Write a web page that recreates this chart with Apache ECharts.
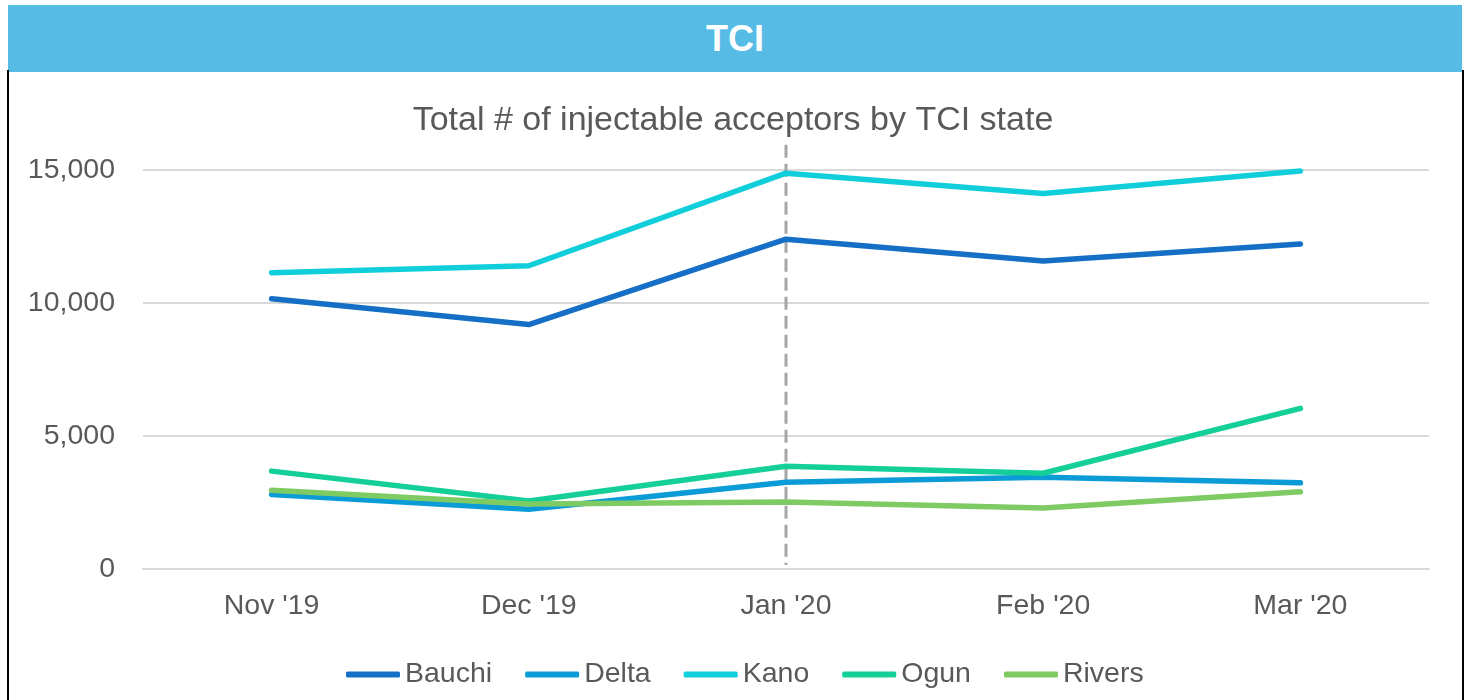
<!DOCTYPE html>
<html>
<head>
<meta charset="utf-8">
<script src="https://cdn.jsdelivr.net/npm/echarts@6/dist/echarts.min.js"></script>
<style>
  html, body { margin: 0; padding: 0; background: #fff; }
  .page { position: relative; width: 1466px; height: 700px; overflow: hidden; }
  .header {
    position: absolute; left: 8px; top: 5px; width: 1454px; height: 67px;
    background: #56bbe5; color: #fff; z-index: 2;
    font: bold 36px "Liberation Sans", Arial, sans-serif;
    display: flex; align-items: center; justify-content: center;
  }
  .frame {
    position: absolute; left: 7px; top: 70px; width: 1453px; height: 640px;
    border-left: 2px solid #000; border-right: 2px solid #000; z-index: 2;
    pointer-events: none;
  }
  #chart { position: absolute; left: 0; top: 0; width: 1466px; height: 700px; }
</style>
</head>
<body>
<div class="page">
  <div class="header">TCI</div>
  <div class="frame"></div>
  <div id="chart"></div>
</div>
<script>
// 数据
const months = ["Nov '19", "Dec '19", "Jan '20", "Feb '20", "Mar '20"]
const bauchi = [10160, 9190, 12400, 11580, 12220]
const delta = [2800, 2250, 3260, 3450, 3240]
const kano = [11140, 11400, 14880, 14120, 14960]
const ogun = [3680, 2560, 3860, 3600, 6040]
const rivers = [2960, 2440, 2520, 2290, 2900]
const yTicks = [0, 5000, 10000, 15000]

const seriesList = [
  { name: 'Bauchi', data: bauchi, color: '#166fc6' },
  { name: 'Delta', data: delta, color: '#0b9cd8' },
  { name: 'Kano', data: kano, color: '#10cfdb' },
  { name: 'Ogun', data: ogun, color: '#14cf97' },
  { name: 'Rivers', data: rivers, color: '#7ecb63' }
]

const font = '"Liberation Sans", Arial, sans-serif'
const chart = echarts.init(document.getElementById('chart'))

chart.setOption({
  backgroundColor: 'transparent',
  animation: false,
  title: {
    text: 'Total # of injectable acceptors by TCI state',
    left: 'center',
    top: 99,
    textStyle: { color: '#595959', fontSize: 34, fontWeight: 'normal', fontFamily: font }
  },
  legend: {
    top: 655,
    left: 341,
    icon: 'roundRect',
    itemWidth: 54,
    itemHeight: 6,
    itemGap: 33,
    textStyle: { color: '#595959', fontSize: 28.5, fontFamily: font },
    data: seriesList.map(s => s.name)
  },
  grid: { left: 143, right: 37, top: 170, bottom: 131 },
  xAxis: {
    type: 'category',
    data: months,
    boundaryGap: true,
    axisLine: { lineStyle: { color: '#d9d9d9', width: 2 } },
    axisTick: { show: false },
    axisLabel: { color: '#595959', fontSize: 28.5, fontFamily: font, margin: 23 }
  },
  yAxis: {
    type: 'value',
    min: yTicks[0],
    max: yTicks[yTicks.length - 1],
    interval: 5000,
    axisLine: { show: false },
    axisTick: { show: false },
    splitLine: { lineStyle: { color: '#d9d9d9', width: 2 } },
    axisLabel: {
      color: '#595959', fontSize: 28.5, fontFamily: font, margin: 28,
      formatter: v => v.toLocaleString('en-US')
    }
  },
  series: seriesList.map(s => ({
    name: s.name,
    type: 'line',
    data: s.data,
    symbol: 'none',
    color: s.color,
    lineStyle: { width: 5.5, color: s.color, cap: 'round', join: 'round' }
  }))
})

// Jan '20 虚线标记
const dashTop = chart.convertToPixel({ gridIndex: 0 }, ["Jan '20", 15950])
const dashBottom = chart.convertToPixel({ gridIndex: 0 }, ["Jan '20", 150])
chart.setOption({
  graphic: [{
    type: 'line',
    z: 1,
    shape: { x1: dashTop[0], y1: dashTop[1], x2: dashBottom[0], y2: dashBottom[1] },
    style: { stroke: '#a6a6a6', lineWidth: 3, lineDash: [13, 6] }
  }]
})
</script>
</body>
</html>
